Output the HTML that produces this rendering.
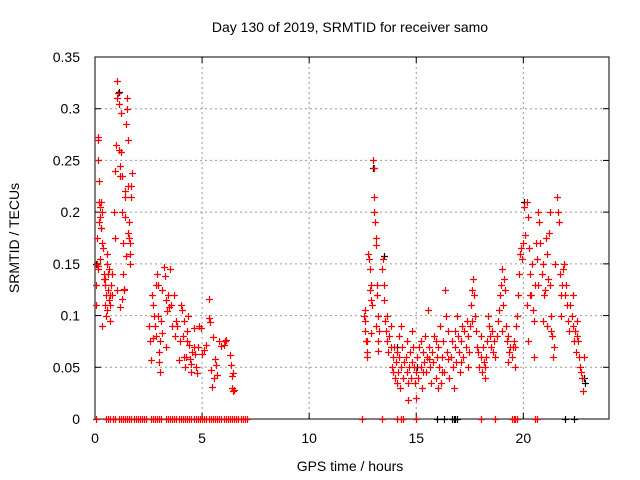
<!DOCTYPE html>
<html><head><meta charset="utf-8"><style>
html,body{margin:0;padding:0;background:#fff}
svg{display:block;font-family:"Liberation Sans",sans-serif}
</style></head><body>
<svg id="chart" width="640" height="480">
<text x="350" y="32" font-size="14" text-anchor="middle">Day 130 of 2019, SRMTID for receiver samo</text>
<text x="350" y="471" font-size="14" text-anchor="middle">GPS time / hours</text>
<text transform="translate(19,238) rotate(-90)" font-size="14" text-anchor="middle">SRMTID / TECUs</text>
<g id="grid"></g>
<g id="ticks"></g>
<rect x="95" y="57" width="514" height="362" fill="none" stroke="#000" stroke-width="1"/>
<g id="black"></g>
<g id="red"></g>
</svg>
<script>
const xTicks=[0,5,10,15,20];
const yTicks=[0,0.05,0.1,0.15,0.2,0.25,0.3,0.35];
const yTickLabels=["0","0.05","0.1","0.15","0.2","0.25","0.3","0.35"];
const redEarly=[[0.05,0.13],[0.08,0.15],[0.1,0.175],[0.12,0.25],[0.15,0.27],[0.18,0.23],[0.2,0.21],[0.22,0.195],[0.25,0.205],[0.28,0.185],[0.3,0.21],[0.32,0.2],[0.35,0.17],[0.38,0.165],[0.4,0.14],[0.42,0.135],[0.45,0.13],[0.48,0.11],[0.5,0.1],[0.52,0.12],[0.55,0.16],[0.58,0.15],[0.6,0.14],[0.62,0.125],[0.65,0.115],[0.68,0.12],[0.7,0.11],[0.72,0.095],[0.75,0.13],[0.78,0.14],[0.8,0.12],[0.15,0.145],[0.25,0.155],[0.35,0.09],[0.45,0.135],[0.55,0.105],[0.65,0.145],[0.05,0.11],[0.12,0.148],[0.3,0.185],[0.15,0.273],[0.2,0.19]];
const redMorning=[[0.9,0.2],[0.95,0.24],[1.0,0.265],[1.02,0.31],[1.05,0.327],[1.08,0.315],[1.1,0.305],[1.12,0.26],[1.15,0.245],[1.18,0.235],[1.2,0.296],[1.22,0.258],[1.25,0.235],[1.28,0.2],[1.3,0.17],[1.32,0.14],[1.35,0.125],[1.38,0.195],[1.4,0.22],[1.42,0.215],[1.45,0.285],[1.48,0.3],[1.5,0.31],[1.52,0.27],[1.55,0.225],[1.58,0.19],[1.6,0.175],[1.62,0.16],[1.65,0.15],[1.68,0.215],[1.7,0.225],[1.72,0.238],[0.95,0.175],[1.05,0.125],[1.15,0.108],[1.25,0.116],[1.35,0.126],[1.45,0.158],[1.55,0.18],[1.65,0.17]];
const redMid=[[2.5,0.09],[2.55,0.075],[2.6,0.057],[2.65,0.12],[2.7,0.11],[2.75,0.1],[2.8,0.09],[2.85,0.08],[2.9,0.14],[2.95,0.13],[3.0,0.065],[3.0,0.055],[3.05,0.045],[3.1,0.095],[3.15,0.125],[3.2,0.147],[3.25,0.138],[3.3,0.115],[3.35,0.104],[3.4,0.12],[3.5,0.145],[3.55,0.11],[3.6,0.09],[2.7,0.078],[2.85,0.13],[3.05,0.075],[3.15,0.083],[2.95,0.1],[3.3,0.07],[3.45,0.108],
[3.7,0.12],[3.75,0.08],[3.8,0.095],[3.9,0.057],[3.95,0.075],[4.0,0.11],[4.05,0.105],[4.1,0.08],[4.15,0.095],[4.2,0.05],[4.25,0.06],[4.3,0.085],[4.35,0.1],[4.4,0.072],[4.45,0.058],[4.5,0.045],[4.55,0.065],[4.6,0.088],[4.65,0.063],[4.7,0.05],[4.75,0.044],[4.8,0.07],[4.85,0.09],[4.95,0.088],[5.0,0.063],[4.3,0.075],[4.5,0.053],[4.6,0.07],[3.85,0.09],[4.15,0.06]];
const redLate=[[5.1,0.067],[5.2,0.072],[5.3,0.116],[5.3,0.098],[5.35,0.094],[5.4,0.047],[5.45,0.031],[5.5,0.079],[5.55,0.04],[5.6,0.058],[5.65,0.052],[5.7,0.043],[5.8,0.075],[6.0,0.072],[6.05,0.075],[6.1,0.076],[6.3,0.062],[6.35,0.052],[6.4,0.042],[6.4,0.03],[6.45,0.027],[6.5,0.028],[6.45,0.044],[5.9,0.071]];
const redEvening=[[12.55,0.1],[12.6,0.095],[12.62,0.085],[12.65,0.075],[12.7,0.065],[12.72,0.06],[12.75,0.16],[12.8,0.155],[12.82,0.145],[12.85,0.125],[12.88,0.13],[12.9,0.115],[12.95,0.11],[13.0,0.25],[13.02,0.243],[13.05,0.215],[13.05,0.2],[13.08,0.19],[13.1,0.175],[13.12,0.168],[13.15,0.13],[13.18,0.12],[13.2,0.1],[13.22,0.075],[13.25,0.085],[12.6,0.105],[12.7,0.075],[13.1,0.09],[13.2,0.066],[12.9,0.083],
[13.4,0.145],[13.45,0.155],[13.5,0.13],[13.5,0.115],[13.55,0.095],[13.6,0.085],[13.65,0.075],[13.7,0.065],[13.75,0.08],[13.8,0.07],[13.85,0.05],[13.9,0.06],[13.95,0.07],[14.0,0.04],[14.05,0.055],[14.1,0.065],[14.15,0.045],[14.2,0.06],[14.25,0.03],[14.3,0.05],[14.35,0.07],[14.4,0.04],[14.45,0.055],[14.5,0.06],[14.55,0.045],[14.6,0.035],[14.65,0.05],[14.7,0.065],[14.75,0.04],[14.8,0.055],[14.85,0.07],[14.9,0.05],[14.95,0.035],[15.0,0.02],[15.0,0.045],[14.8,0.085],[14.3,0.09],[13.8,0.09],[13.65,0.1],[14.55,0.075],[14.2,0.08],[13.9,0.045],[14.6,0.018],[14.1,0.035]];
const redNight=[[15.05,0.06],[15.1,0.04],[15.15,0.07],[15.2,0.05],[15.25,0.03],[15.3,0.065],[15.35,0.055],[15.4,0.08],[15.45,0.045],[15.5,0.06],[15.55,0.105],[15.6,0.07],[15.65,0.05],[15.7,0.035],[15.75,0.065],[15.8,0.055],[15.85,0.08],[15.9,0.04],[15.95,0.06],[16.0,0.07],[16.05,0.05],[16.1,0.09],[16.15,0.035],[16.2,0.06],[16.25,0.075],[16.3,0.045],[16.35,0.125],[16.4,0.1],[16.45,0.065],[16.5,0.085],[16.55,0.04],[16.6,0.06],[16.65,0.075],[16.7,0.05],[16.75,0.03],[16.8,0.07],[16.85,0.055],[16.9,0.1],[16.95,0.08],[17.0,0.065],[17.05,0.045],[17.1,0.075],[17.15,0.09],[17.2,0.06],[17.25,0.085],[17.3,0.07],[17.35,0.095],[17.4,0.08],[17.45,0.065],[17.5,0.09],[15.3,0.045],[15.6,0.058],[15.9,0.075],[16.2,0.045],[16.5,0.058],[16.8,0.085],[17.1,0.055],[17.4,0.05],[15.2,0.075],[16.0,0.03],
[17.55,0.11],[17.6,0.125],[17.65,0.135],[17.7,0.12],[17.75,0.1],[17.8,0.085],[17.6,0.095],[17.85,0.07],[17.9,0.065],[17.95,0.05],[18.0,0.06],[18.05,0.045],[18.1,0.07],[18.15,0.055],[18.2,0.04],[18.25,0.06],[18.3,0.075],[18.35,0.1],[18.4,0.09],[18.45,0.08],[18.5,0.07],[18.55,0.085],[18.6,0.065],[18.65,0.075],[18.7,0.06],[18.0,0.08],[18.2,0.05]];
const redDawn=[[18.75,0.08],[18.8,0.095],[18.85,0.105],[18.9,0.12],[18.95,0.13],[19.0,0.145],[19.05,0.11],[19.1,0.135],[19.15,0.125],[19.2,0.09],[19.25,0.075],[19.3,0.08],[19.35,0.065],[19.4,0.07],[19.45,0.06],[19.5,0.07],[19.55,0.075],[19.6,0.07],[19.65,0.09],[19.7,0.1],[19.75,0.12],[19.8,0.14],[19.85,0.16],[19.9,0.165],[19.95,0.155],[19.0,0.085],[19.3,0.055],[19.6,0.05],
[20.0,0.17],[20.05,0.205],[20.1,0.178],[20.15,0.21],[20.2,0.195],[20.25,0.165],[20.3,0.14],[20.35,0.12],[20.4,0.15],[20.45,0.105],[20.5,0.095],[20.55,0.13],[20.6,0.17],[20.65,0.155],[20.7,0.2],[20.75,0.19],[20.8,0.17],[20.85,0.14],[20.9,0.15],[20.95,0.12],[21.0,0.125],[21.05,0.175],[21.1,0.16],[21.15,0.135],[21.2,0.18],[21.25,0.13],[21.3,0.1],[21.35,0.08],[21.4,0.06],[21.45,0.07],[21.5,0.15],[20.15,0.11],[20.3,0.12],[20.5,0.06],[20.7,0.13],[20.9,0.095],[21.1,0.09],[21.3,0.085],[20.2,0.075],[21.25,0.2],
[21.55,0.215],[21.6,0.2],[21.65,0.19],[21.7,0.14],[21.75,0.12],[21.8,0.13],[21.85,0.145],[21.9,0.15],[21.95,0.12],[22.0,0.13],[22.05,0.11],[22.1,0.095],[22.15,0.085],[22.2,0.11],[22.25,0.1],[22.3,0.09],[22.35,0.075],[22.4,0.085],[22.45,0.065],[22.5,0.08],[22.55,0.075],[22.6,0.06],[22.65,0.05],[22.7,0.045],[22.75,0.04],[22.8,0.027],[22.85,0.06],[22.3,0.12],[22.5,0.095],[21.75,0.1]];
const redZeroHours=[0.05,0.5,0.6,0.7,0.85,0.95,1.1,1.2,1.3,1.4,1.5,1.6,1.7,1.8,1.9,2.0,2.1,2.2,2.3,2.4,2.6,2.7,2.8,2.9,3.0,3.1,3.3,3.4,3.5,3.6,3.7,3.8,3.9,4.0,4.1,4.2,4.3,4.4,4.5,4.6,4.7,4.8,4.9,5.0,5.1,5.2,5.3,5.4,5.5,5.6,5.7,5.8,5.9,6.0,6.1,6.2,6.3,6.4,6.5,6.6,6.7,6.8,6.9,7.0,7.1,12.46,13.4,14.1,14.3,14.36,15.0,18.0,18.7,19.47,19.55,19.62,19.7,20.56,20.62];
const blackPoints=[[13.0,0.243],[13.5,0.158],[14.1,0.07],[15.05,0.05],[20.05,0.21],[22.85,0.04],[22.9,0.035],[1.1,0.316],[0.05,0.15]];
const blackZeroHours=[15.95,16.28,16.67,16.75,16.82,16.9,21.96,22.35];

const X0=95,X1=609,Y0=419,Y1=57,XMAX=24,YMAX=0.35;
const sx=h=>X0+h/XMAX*(X1-X0);
const sy=v=>Y0-v/YMAX*(Y0-Y1);
const NS="http://www.w3.org/2000/svg";
const grid=document.getElementById('grid'),ticks=document.getElementById('ticks');
function mk(tag,attrs,parent){const e=document.createElementNS(NS,tag);for(const k in attrs)e.setAttribute(k,attrs[k]);parent.appendChild(e);return e;}
xTicks.forEach(t=>{
  const x=sx(t);
  if(t>0){const g=mk('line',{x1:x,x2:x,y1:Y0,y2:Y1,stroke:'#999','stroke-dasharray':'2,3'},grid);
  
  }
  mk('line',{x1:x,x2:x,y1:Y0,y2:Y0-6,stroke:'#000'},ticks);
  mk('line',{x1:x,x2:x,y1:Y1,y2:Y1+6,stroke:'#000'},ticks);
  const lb=mk('text',{x:x,y:443,'font-size':14,'text-anchor':'middle'},ticks);
  lb.textContent=t;
  
  
});
yTicks.forEach((t,i)=>{
  const y=sy(t);
  if(t>0&&t<YMAX){const g=mk('line',{x1:X0,x2:X1,y1:y,y2:y,stroke:'#999','stroke-dasharray':'2,3'},grid);
  
  }
  mk('line',{x1:X0,x2:X0+6,y1:y,y2:y,stroke:'#000'},ticks);
  mk('line',{x1:X1,x2:X1-6,y1:y,y2:y,stroke:'#000'},ticks);
  const lb=mk('text',{x:80,y:y+5,'font-size':14,'text-anchor':'end'},ticks);
  lb.textContent=yTickLabels[i];
  
  
});
function plus(g,h,v,color){
  const x=Math.round(sx(h))+0.5,y=Math.round(sy(v))+0.5;
  const p=mk('path',{d:`M${x-3.5},${y}H${x+3.5}M${x},${y-3.5}V${y+3.5}`,stroke:color,'stroke-width':1.2,fill:'none'},g);
  
  
}
const bg=document.getElementById('black'),rg=document.getElementById('red');
blackPoints.forEach(p=>plus(bg,p[0],p[1],'#000'));
blackZeroHours.forEach(h=>plus(bg,h,0,'#000'));
[redEarly,redMorning,redMid,redLate,redEvening,redNight,redDawn].forEach(s=>s.forEach(p=>plus(rg,p[0],p[1],'#f00')));
redZeroHours.forEach(h=>plus(rg,h,0,'#f00'));
</script>
</body></html>
